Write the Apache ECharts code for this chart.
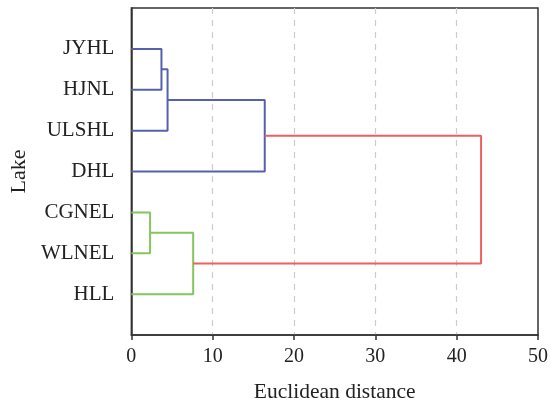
<!DOCTYPE html>
<html>
<head>
<meta charset="utf-8">
<script src="https://cdn.jsdelivr.net/npm/echarts@6/dist/echarts.min.js"></script>
<style>
  html, body { margin: 0; padding: 0; background: #fff; }
  #chart { width: 551px; height: 408px; }
</style>
</head>
<body>
<div id="chart"></div>
<script>
// leaves, top to bottom
var lakes = ['JYHL', 'HJNL', 'ULSHL', 'DHL', 'CGNEL', 'WLNEL', 'HLL']
// linkage: [nodeA, nodeB, distance]; leaves are 0..6, merges become 7,8,...
var merges = [
  [4, 5, 2.3],
  [0, 1, 3.7],
  [8, 2, 4.45],
  [7, 6, 7.6],
  [9, 3, 16.4],
  [11, 10, 43.0]
]
var xTicks = [0, 10, 20, 30, 40, 50]

var FONT = '"Liberation Serif", "Times New Roman", serif'
var clusterColors = ['#5760ad', '#84c55e']
var topColor = '#ee5f5f'

var chart = echarts.init(document.getElementById('chart'))

// node position (y) and height (x)
var nodeY = lakes.map(function (l, i) { return i })
var nodeH = lakes.map(function () { return 0 })
var nodeColor = []
merges.forEach(function (m, i) {
  var id = lakes.length + i
  nodeY[id] = (nodeY[m[0]] + nodeY[m[1]]) / 2
  nodeH[id] = m[2]
})

// color: top merge red, each sub-cluster its own colour
var maxH = merges[merges.length - 1][2]
var threshold = 0.7 * maxH
var colorIdx = 0
function paint(id, color) {
  nodeColor[id] = color
  var k = id - lakes.length
  if (k < 0) return
  paint(merges[k][0], color)
  paint(merges[k][1], color)
}
for (var i = merges.length - 1; i >= 0; i--) {
  var id = lakes.length + i
  if (merges[i][2] > threshold) {
    nodeColor[id] = topColor
  } else if (!nodeColor[id] || nodeColor[id] === topColor) {
    paint(id, clusterColors[colorIdx++ % clusterColors.length])
  }
}

var series = merges.map(function (m, i) {
  var id = lakes.length + i
  var a = m[0], b = m[1]
  return {
    type: 'line',
    symbol: 'none',
    silent: true,
    lineStyle: { color: nodeColor[id], width: 2 },
    data: [
      [nodeH[a], nodeY[a]],
      [m[2], nodeY[a]],
      [m[2], nodeY[b]],
      [nodeH[b], nodeY[b]]
    ]
  }
})

chart.setOption({
  animation: false,
  backgroundColor: '#fff',
  grid: {
    left: 130,
    right: 11,
    top: 8,
    bottom: 73,
    show: true,
    borderColor: '#333',
    borderWidth: 1.5
  },
  xAxis: {
    type: 'value',
    min: xTicks[0],
    max: xTicks[xTicks.length - 1],
    interval: 10,
    name: 'Euclidean distance',
    nameLocation: 'middle',
    nameGap: 46,
    nameTextStyle: { fontFamily: FONT, fontSize: 21.5, color: '#222' },
    axisLine: { show: true, onZero: false, lineStyle: { color: '#333', width: 1.5 } },
    axisTick: { show: true, length: 5, lineStyle: { color: '#333', width: 1.5 } },
    axisLabel: { fontFamily: FONT, fontSize: 20, color: '#222', margin: 12 },
    splitLine: {
      show: true,
      showMinLine: false,
      showMaxLine: false,
      lineStyle: { color: '#cfcbcb', type: [6, 6], width: 1.2 }
    }
  },
  yAxis: {
    type: 'value',
    min: -1,
    max: lakes.length,
    interval: 1,
    inverse: true,
    name: 'Lake',
    nameLocation: 'middle',
    nameGap: 95,
    nameTextStyle: { fontFamily: FONT, fontSize: 22, color: '#222' },
    axisLine: { show: true, onZero: false, lineStyle: { color: '#333', width: 1.5 } },
    axisTick: { show: false },
    splitLine: { show: false },
    axisLabel: {
      fontFamily: FONT,
      fontSize: 21,
      color: '#222',
      margin: 17,
      formatter: function (v) { return lakes[v] || '' }
    }
  },
  series: series
})
</script>
</body>
</html>
